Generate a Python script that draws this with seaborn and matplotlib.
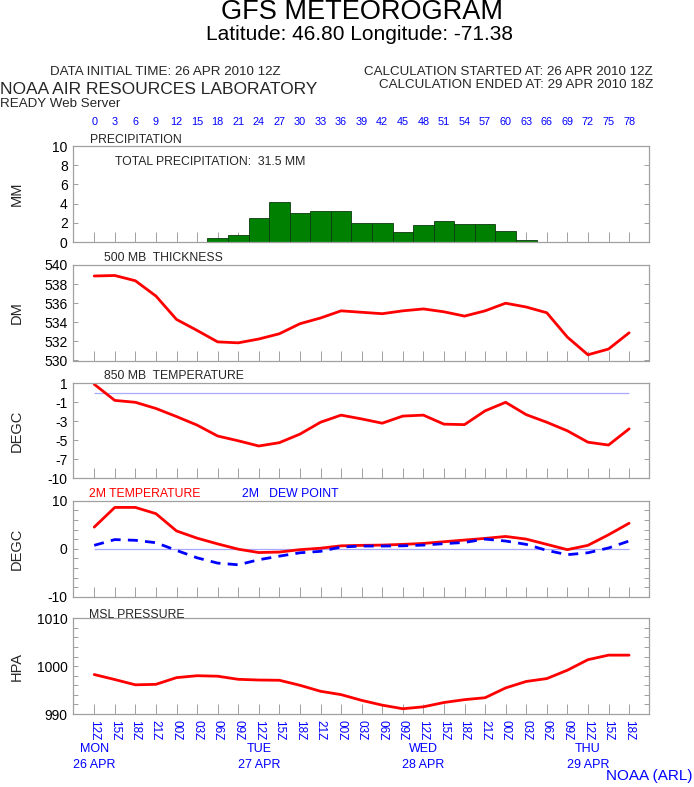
import matplotlib
matplotlib.use("Agg")
import matplotlib.pyplot as plt
import matplotlib.transforms as mtransforms
from matplotlib.ticker import FixedLocator, FixedFormatter
import numpy as np
import pandas as pd
import seaborn as sns

# ---------------- data ----------------
hours = list(range(0, 79, 3))
hour_labels = [str(h) for h in hours]
utc_labels = ["12Z", "15Z", "18Z", "21Z", "00Z", "03Z", "06Z", "09Z",
              "12Z", "15Z", "18Z", "21Z", "00Z", "03Z", "06Z", "09Z",
              "12Z", "15Z", "18Z", "21Z", "00Z", "03Z", "06Z", "09Z",
              "12Z", "15Z", "18Z"]
day_hours = [0, 24, 48, 72]
day_names = ["MON", "TUE", "WED", "THU"]
day_dates = ["26 APR", "27 APR", "28 APR", "29 APR"]

precip_mm = [0, 0, 0, 0, 0, 0, 0.4, 0.75, 2.5, 4.2, 3.05, 3.25, 3.25, 2.0,
             2.0, 1.05, 1.8, 2.2, 1.9, 1.85, 1.15, 0.25, 0, 0, 0, 0, 0]
thickness_dm = [538.85, 538.9, 538.35, 536.75, 534.3, 533.15, 531.95, 531.85,
                532.25, 532.8, 533.85, 534.45, 535.2, 535.05, 534.9, 535.2,
                535.4, 535.1, 534.65, 535.2, 536.0, 535.6, 535.0, 532.45,
                530.6, 531.2, 532.9]
t850 = [0.9, -0.8, -1.0, -1.65, -2.5, -3.4, -4.55, -5.05, -5.6, -5.25, -4.35,
        -3.1, -2.35, -2.75, -3.2, -2.45, -2.35, -3.3, -3.35, -1.9, -1.0, -2.3,
        -3.1, -4.0, -5.2, -5.5, -3.8]
t2m = [4.5, 8.6, 8.6, 7.3, 3.7, 2.2, 1.0, -0.1, -0.8, -0.7, -0.2, 0.1, 0.6,
       0.7, 0.75, 0.9, 1.1, 1.45, 1.8, 2.15, 2.55, 2.0, 0.9, -0.2, 0.7, 2.9, 5.3]
td2m = [0.7, 1.9, 1.75, 1.25, -0.35, -1.9, -3.0, -3.35, -2.3, -1.55, -0.85,
        -0.55, 0.35, 0.55, 0.55, 0.6, 0.75, 1.05, 1.3, 2.0, 1.6, 0.9, -0.35,
        -1.25, -0.85, 0.15, 1.6]
mslp = [998.25, 997.2, 996.1, 996.2, 997.6, 998.0, 997.9, 997.25, 997.1,
        997.05, 996.0, 994.75, 994.05, 992.85, 991.85, 991.1, 991.5, 992.4,
        993.0, 993.4, 995.45, 996.8, 997.4, 999.15, 1001.35, 1002.3, 1002.3]

precip_ticks = [0, 2, 4, 6, 8, 10]
precip_ticklabels = ["0", "2", "4", "6", "8", "10"]
thick_ticks = [530, 532, 534, 536, 538, 540]
thick_ticklabels = ["530", "532", "534", "536", "538", "540"]
t850_ticks = [-9, -7, -5, -3, -1, 1]
t850_ticklabels = ["-10", "-7", "-5", "-3", "-1", "1"]
t2m_ticks = [-10, -8, -6, -4, -2, 0, 2, 4, 6, 8, 10]
t2m_ticklabels = ["-10", "", "", "", "", "0", "", "", "", "", "10"]
p_ticks = [990, 992, 994, 996, 998, 1000, 1002, 1004, 1006, 1008, 1010]
p_ticklabels = ["990", "", "", "", "", "1000", "", "", "", "", "1010"]

df = pd.DataFrame({"hour": hours, "precip": precip_mm, "thick": thickness_dm,
                   "t850": t850, "t2m": t2m, "td2m": td2m, "mslp": mslp})

# ---------------- style ----------------
sns.set_theme(style="white")
plt.rcParams["font.family"] = ["Liberation Sans", "DejaVu Sans"]

W, H = 694, 787
fig = plt.figure(figsize=(W / 100, H / 100), dpi=100)
fig.patch.set_facecolor("white")

FRAME = "#a0a0a0"
BLUE = "#0000ff"
RED = "#ff0000"
ZERO = "#a8a8ff"
x_left, x_right = 73.3, 649.3
XLIM = (-3.05, 80.95)


def fx(x):
    return x / W


def fy(y):
    return 1 - y / H


def make_ax(top, bottom):
    ax = fig.add_axes([fx(x_left), fy(bottom), fx(x_right - x_left),
                       (bottom - top) / H])
    ax.set_facecolor("white")
    for s in ax.spines.values():
        s.set_color(FRAME)
        s.set_linewidth(0.9)
    ax.set_xlim(*XLIM)
    ax.xaxis.set_major_locator(FixedLocator(hours))
    ax.tick_params(axis="x", direction="in", length=7.2, width=0.7,
                   color=FRAME, bottom=True, top=False, labelbottom=False)
    ax.tick_params(axis="y", direction="in", length=3.8, width=0.7,
                   color=FRAME, left=True, right=True, labelsize=10,
                   pad=4, labelcolor="black")
    ax.set_xlabel("")
    ax.set_ylabel("")
    ax.grid(False)
    return ax


panels = [(146, 242), (265, 360.5), (383.3, 478.3), (500.7, 596.7), (618.3, 714)]
axes = [make_ax(t, b) for t, b in panels]

# ---- precipitation ----
ax = axes[0]
sns.histplot(data=df[df["precip"] > 0], x="hour", weights="precip",
             binwidth=3, binrange=(16.5, 64.5), color="#008000", alpha=1,
             edgecolor="#0d3a0d", linewidth=0.6, ax=ax)
ax.set_ylim(0, 10)
ax.yaxis.set_major_locator(FixedLocator(precip_ticks))
ax.yaxis.set_major_formatter(FixedFormatter(precip_ticklabels))
ax.set_xlim(*XLIM)
ax.set_xlabel("")
ax.set_ylabel("")

# ---- 500 mb thickness ----
ax = axes[1]
sns.lineplot(data=df, x="hour", y="thick", color=RED, lw=2.0, ax=ax)
ax.set_ylim(530, 540)
ax.yaxis.set_major_locator(FixedLocator(thick_ticks))
ax.yaxis.set_major_formatter(FixedFormatter(thick_ticklabels))

# ---- 850 mb temperature ----
ax = axes[2]
ax.hlines(0, hours[0], hours[-1], color=ZERO, lw=0.9)
sns.lineplot(data=df, x="hour", y="t850", color=RED, lw=2.0, ax=ax)
ax.set_ylim(-9, 1)
ax.yaxis.set_major_locator(FixedLocator(t850_ticks))
ax.yaxis.set_major_formatter(FixedFormatter(t850_ticklabels))

# ---- 2m temperature / dew point ----
ax = axes[3]
ax.hlines(0, hours[0], hours[-1], color=ZERO, lw=0.9)
sns.lineplot(data=df, x="hour", y="t2m", color=RED, lw=2.0, ax=ax)
sns.lineplot(data=df, x="hour", y="td2m", color=BLUE, lw=2.0, ax=ax,
             dashes=False)
ax.lines[-1].set_dashes((3.6, 2.6))
ax.set_ylim(-10, 10)
ax.yaxis.set_major_locator(FixedLocator(t2m_ticks))
ax.yaxis.set_major_formatter(FixedFormatter(t2m_ticklabels))

# ---- MSL pressure ----
ax = axes[4]
sns.lineplot(data=df, x="hour", y="mslp", color=RED, lw=2.0, ax=ax)
ax.set_ylim(990, 1010)
ax.yaxis.set_major_locator(FixedLocator(p_ticks))
ax.yaxis.set_major_formatter(FixedFormatter(p_ticklabels))
ax.xaxis.set_major_formatter(FixedFormatter(utc_labels))
ax.tick_params(axis="x", labelbottom=True, labelsize=8.5, labelcolor=BLUE,
               labelrotation=270, pad=4)

for a in axes:
    a.set_xlim(*XLIM)
    a.set_xlabel("")
    a.set_ylabel("")

# day labels under bottom axis
trans = mtransforms.blended_transform_factory(axes[4].transData, fig.transFigure)
for h, dn, dd in zip(day_hours, day_names, day_dates):
    axes[4].text(h, fy(749), dn, transform=trans, ha="center", va="center",
                 color=BLUE, fontsize=9)
    axes[4].text(h, fy(765), dd, transform=trans, ha="center", va="center",
                 color=BLUE, fontsize=9)

# forecast hour labels above top panel
trans0 = mtransforms.blended_transform_factory(axes[0].transData, fig.transFigure)
for h, lab in zip(hours, hour_labels):
    axes[0].text(h, fy(122), lab, transform=trans0, ha="center", va="center",
                 color=BLUE, fontsize=7.8)

# ---------------- texts ----------------
fig.text(fx(362), fy(12), "GFS METEOROGRAM", ha="center", va="center",
         fontsize=19.5, color="black")
fig.text(fx(360), fy(34), "Latitude: 46.80 Longitude: -71.38", ha="center",
         va="center", fontsize=15, color="black")
fig.text(fx(50), fy(72), "DATA INITIAL TIME: 26 APR 2010 12Z", ha="left",
         va="center", fontsize=9.6)
fig.text(fx(653), fy(72), "CALCULATION STARTED AT: 26 APR 2010 12Z",
         ha="right", va="center", fontsize=9.6)
fig.text(fx(653), fy(85), "CALCULATION ENDED AT: 29 APR 2010 18Z",
         ha="right", va="center", fontsize=9.6)
fig.text(fx(0), fy(90), "NOAA AIR RESOURCES LABORATORY", ha="left",
         va="center", fontsize=12.5)
fig.text(fx(0), fy(104), "READY Web Server", ha="left", va="center",
         fontsize=9.6)

fig.text(fx(90), fy(140), "PRECIPITATION", ha="left", va="center", fontsize=8.8)
fig.text(fx(115), fy(162), "TOTAL PRECIPITATION:  31.5 MM", ha="left",
         va="center", fontsize=8.8)
fig.text(fx(104), fy(258), "500 MB  THICKNESS", ha="left", va="center",
         fontsize=8.8)
fig.text(fx(104), fy(376), "850 MB  TEMPERATURE", ha="left", va="center",
         fontsize=8.8)
fig.text(fx(89), fy(494), "2M TEMPERATURE", ha="left", va="center",
         fontsize=8.8, color=RED)
fig.text(fx(242), fy(494), "2M   DEW POINT", ha="left", va="center",
         fontsize=8.8, color=BLUE)
fig.text(fx(89), fy(615), "MSL PRESSURE", ha="left", va="center", fontsize=8.8)

ylabels = ["MM", "DM", "DEGC", "DEGC", "HPA"]
for (t, b), lab in zip(panels, ylabels):
    fig.text(fx(17), fy((t + b) / 2), lab, rotation=90, ha="center",
             va="center", fontsize=10.5)

fig.text(fx(693), fy(776), "NOAA (ARL)", ha="right", va="center",
         fontsize=11, color=BLUE)

fig.savefig("out.png", dpi=100, facecolor="white")
